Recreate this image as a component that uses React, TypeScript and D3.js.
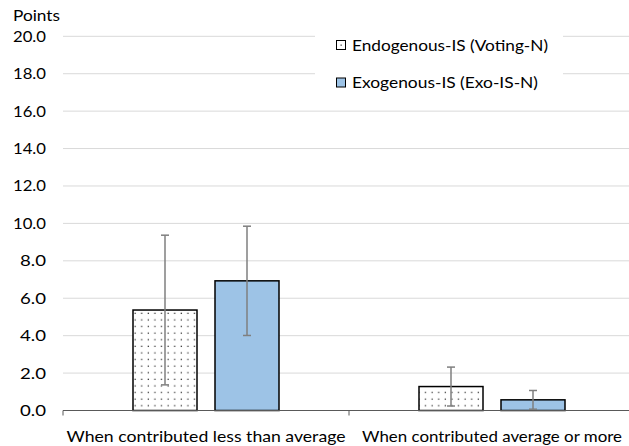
import React from "react";
import * as d3 from "d3";

const categories = ["When contributed less than average", "When contributed average or more"];
const seriesNames = ["Endogenous-IS (Voting-N)", "Exogenous-IS (Exo-IS-N)"];
const endoValues = [5.37, 1.28];
const exoValues = [6.93, 0.57];
const endoErr = [4.0, 1.04];
const exoErr = [2.92, 0.5];
const yTicks = [0, 2, 4, 6, 8, 10, 12, 14, 16, 18, 20];

const W = 629;
const H = 446;
const FONT = "Lato, 'Open Sans', sans-serif";

export default function App() {
  const left = 63;
  const right = 635;
  const top = 36.3;
  const bottom = 410.5;
  const x0 = d3.scaleBand<string>().domain(categories).range([left, right]).paddingInner(0).paddingOuter(0);
  const y = d3.scaleLinear().domain([0, 20]).range([bottom, top]);
  const barW = 64;
  const gap = 18;
  const series = [
    { name: seriesNames[0], values: endoValues, err: endoErr, fill: "url(#dots)" },
    { name: seriesNames[1], values: exoValues, err: exoErr, fill: "#9DC3E6" },
  ];
  const catLen = [279, 260];
  const legLen = [196, 186];
  return (
    <svg width={W} height={H} style={{ position: "absolute", left: 0, top: 0, background: "#fff" }} fontFamily={FONT}>
      <defs>
        <pattern id="dots" width={6.6} height={6.6} patternUnits="userSpaceOnUse" x={0} y={0}>
          <rect width={6.6} height={6.6} fill="#fff" />
          <rect x={2.5} y={2.5} width={1.3} height={1.3} fill="#444" />
        </pattern>
      </defs>
      <text x={13} y={21} fontSize={15} fill="#000" textLength={47} lengthAdjust="spacingAndGlyphs">Points</text>
      {yTicks.map((t) => (
        <g key={t}>
          {t > 0 && <line x1={left} x2={W} y1={y(t)} y2={y(t)} stroke="#d9d9d9" strokeWidth={1} />}
          <text x={46} y={y(t) + 5.5} fontSize={16} textAnchor="end" fill="#000" textLength={t >= 10 ? 33 : 26} lengthAdjust="spacingAndGlyphs">{t.toFixed(1)}</text>
        </g>
      ))}
      <rect x={315} y={24} width={248} height={70} fill="#fff" />
      {categories.map((c, ci) => {
        const cx = x0(c)! + x0.bandwidth() / 2;
        return (
          <g key={c}>
            {series.map((s, si) => {
              const bx = cx - gap / 2 - barW + si * (barW + gap);
              const v = s.values[ci];
              const e = s.err[ci];
              const mx = bx + barW / 2;
              return (
                <g key={si}>
                  <rect x={bx} y={y(v)} width={barW} height={y(0) - y(v)} fill={s.fill} stroke="#000" strokeWidth={1.5} />
                  <line x1={mx} x2={mx} y1={y(v + e)} y2={y(Math.max(0, v - e))} stroke="#7f7f7f" strokeWidth={1.5} />
                  <line x1={mx - 4} x2={mx + 4} y1={y(v + e)} y2={y(v + e)} stroke="#7f7f7f" strokeWidth={1.5} />
                  <line x1={mx - 4} x2={mx + 4} y1={y(Math.max(0, v - e))} y2={y(Math.max(0, v - e))} stroke="#7f7f7f" strokeWidth={1.5} />
                </g>
              );
            })}
            <text x={cx} y={442} fontSize={16} textAnchor="middle" fill="#000" textLength={catLen[ci]} lengthAdjust="spacingAndGlyphs">{c}</text>
          </g>
        );
      })}
      <line x1={left} x2={right} y1={y(0)} y2={y(0)} stroke="#595959" strokeWidth={1.2} />
      {[left, x0(categories[1])!].map((tx, i) => (
        <line key={i} x1={tx} x2={tx} y1={y(0)} y2={y(0) + 5} stroke="#595959" strokeWidth={1} />
      ))}
      {series.map((s, i) => (
        <g key={s.name}>
          <rect x={336.5} y={40.5 + i * 37.5} width={9} height={9} fill={s.fill === "#9DC3E6" ? "#9DC3E6" : "#fff"} stroke="#000" strokeWidth={1} />
          {i === 0 && <rect x={340.5} y={44.5} width={1.3} height={1.3} fill="#444" />}
          <text x={352} y={50.5 + i * 37.5} fontSize={16} fill="#000" textLength={legLen[i]} lengthAdjust="spacingAndGlyphs">{s.name}</text>
        </g>
      ))}
    </svg>
  );
}
